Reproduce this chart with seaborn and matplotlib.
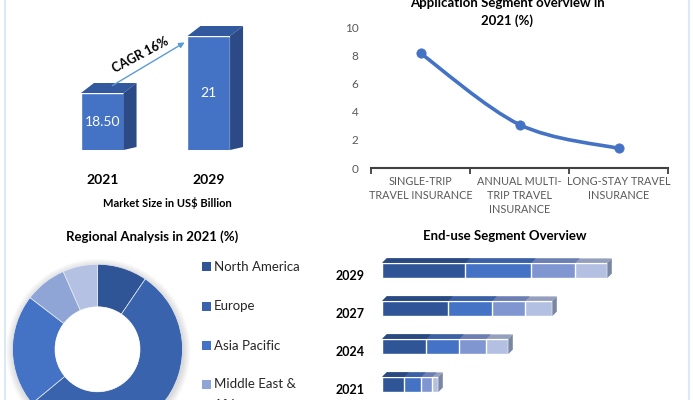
import numpy as np
import pandas as pd
import matplotlib
matplotlib.use("Agg")
import matplotlib.pyplot as plt
import seaborn as sns
from matplotlib.patches import Polygon, Rectangle, PathPatch, Circle
from matplotlib.path import Path
from matplotlib.lines import Line2D

# ---------------- data ----------------
market_years = ["2021", "2029"]
market_values = [18.50, 21]
market_labels = ["18.50", "21"]
cagr_text = "CAGR 16%"

app_segments = ["SINGLE-TRIP\nTRAVEL INSURANCE",
                "ANNUAL MULTI-\nTRIP TRAVEL\nINSURANCE",
                "LONG-STAY TRAVEL\nINSURANCE"]
app_values = [8.2, 3.1, 1.4]
app_ticks = [0, 2, 4, 6, 8, 10]

regions = ["North America", "Europe", "Asia Pacific",
           "Middle East &\nAfrica", "South America"]
region_shares = [9.5, 54.5, 21.4, 8.0, 6.6]

enduse_years = ["2029", "2027", "2024", "2021"]
enduse_seg1 = [8.3, 6.6, 4.4, 2.2]
enduse_seg2 = [6.6, 4.4, 3.3, 1.7]
enduse_seg3 = [4.4, 3.3, 2.7, 1.1]
enduse_seg4 = [3.2, 2.7, 2.2, 0.6]

# ---------------- style ----------------
sns.set_theme(style="white")
plt.rcParams['font.family'] = ['Lato', 'DejaVu Sans']

W, H = 693, 400
fig = plt.figure(figsize=(W / 100, H / 100), dpi=100)


def px_axes(left, top, width, height):
    return fig.add_axes([left / W, (H - top - height) / H, width / W, height / H])


def fx(x):
    return x / W


def fy(y):
    return (H - y) / H


# ---------------- panel 1 : market size 3D bars ----------------
ax1 = px_axes(49, 0, 213, 150)
df1 = pd.DataFrame({"year": market_years, "value": market_values})
sns.barplot(data=df1, x="year", y="value", color="#4472c4", width=0.4,
            saturation=1, ax=ax1, zorder=3)
ybase = 16
ax1.set_xlim(-0.5, 1.5)
ax1.set_ylim(ybase, ybase + 150 / 22.8)
dxd = 13 / (213 / 2.0)
dyd = 10 / 22.8
for p in ax1.patches[:len(market_values)]:
    x0, w, top = p.get_x(), p.get_width(), p.get_height()
    ax1.add_patch(Polygon([(x0, top), (x0 + w, top), (x0 + w + dxd, top + dyd),
                           (x0 + dxd, top + dyd)], closed=True,
                          facecolor="#32599e", edgecolor="none", zorder=3))
    ax1.add_patch(Polygon([(x0 + w, top), (x0 + w + dxd, top + dyd),
                           (x0 + w + dxd, ybase + dyd * 0.3), (x0 + w, ybase)],
                          closed=True, facecolor="#2b4a86", edgecolor="none", zorder=3))
for i, (v, lab) in enumerate(zip(market_values, market_labels)):
    ax1.text(i, (ybase + v) / 2, lab, color="white", fontsize=10,
             ha="center", va="center", zorder=5)
ax1.set_xlabel("")
ax1.set_ylabel("")
ax1.set_yticks([])
ax1.tick_params(axis="x", length=0, pad=17)
for lbl in ax1.get_xticklabels():
    lbl.set_fontweight("bold")
    lbl.set_fontsize(10)
    lbl.set_color("black")
sns.despine(ax=ax1, left=True, bottom=True)
fig.text(fx(167), fy(203), "Market Size in US$ Billion", fontsize=8,
         fontweight="bold", ha="center", va="center", color="black")
fig.add_artist(matplotlib.patches.FancyArrowPatch(
    (fx(110), fy(87)), (fx(187), fy(41)), transform=fig.transFigure,
    arrowstyle="-|>", mutation_scale=8, color="#5b9bd5", lw=1))
fig.text(fx(140), fy(55), cagr_text, fontsize=9, fontweight="bold",
         rotation=28, ha="center", va="center", color="black")

# ---------------- panel 2 : application line ----------------
ax2 = px_axes(371, 28, 297, 140)
x_pos = np.arange(len(app_segments))
sns.scatterplot(x=x_pos, y=app_values, ax=ax2, color="#4472c4", s=45,
                edgecolor="#4472c4", zorder=4)
pts = np.column_stack([x_pos, app_values]).astype(float)
verts = [pts[0]]
codes = [Path.MOVETO]
for i in range(len(pts) - 1):
    p0 = pts[i - 1] if i > 0 else pts[i]
    p1 = pts[i]
    p2 = pts[i + 1]
    p3 = pts[i + 2] if i + 2 < len(pts) else pts[i + 1]
    verts += [p1 + (p2 - p0) / 6, p2 - (p3 - p1) / 6, p2]
    codes += [Path.CURVE4] * 3
ax2.add_patch(PathPatch(Path(verts, codes), facecolor="none",
                        edgecolor="#4472c4", lw=2.6, zorder=3,
                        capstyle="round"))
ax2.set_xlim(-0.5, len(app_segments) - 0.5)
ax2.set_ylim(0, 10)
ax2.set_yticks(app_ticks)
ax2.set_xticks(x_pos)
ax2.set_xticklabels(app_segments)
ax2.set_xticks(np.arange(len(app_segments) + 1) - 0.5, minor=True)
ax2.tick_params(axis="y", length=0, pad=9, labelsize=8.5, labelcolor="#595959")
ax2.tick_params(axis="x", which="major", length=0, pad=6, labelsize=7.8,
                labelcolor="#595959")
ax2.tick_params(axis="x", which="minor", length=4, width=1.3, color="#404040",
                direction="out", bottom=True)
for lbl in ax2.get_xticklabels():
    lbl.set_linespacing(1.3)
for s in ["top", "right", "left"]:
    ax2.spines[s].set_visible(False)
ax2.spines["bottom"].set_color("#404040")
ax2.spines["bottom"].set_linewidth(1.5)
fig.text(fx(507), fy(12), "Application Segment overview in\n2021 (%)",
         fontsize=9.5, fontweight="bold", ha="center", va="center",
         linespacing=1.5, color="black")

# ---------------- panel 3 : regional donut ----------------
ax3 = px_axes(12.5, 264.3, 170, 170)
colors3 = ["#2f5597", "#3a63ad", "#4472c4", "#8fa5d6", "#b4c1e3"]
for k in range(8):
    ax3.add_patch(Circle((0.01, -0.02), 1.0 + 0.012 * k, facecolor="#000000",
                         alpha=0.018, edgecolor="none", zorder=0, clip_on=False))
ax3.pie(region_shares, colors=colors3, startangle=90, counterclock=False,
        radius=1, wedgeprops=dict(width=0.5, edgecolor="#e8ecf5", linewidth=0.5))
ax3.add_patch(Circle((0, 0), 0.5, facecolor="white", edgecolor="none", zorder=5))
ax3.set_xlim(-1, 1)
ax3.set_ylim(-1, 1)
ax3.set_aspect("equal")
ax3.axis("off")
fig.text(fx(152.5), fy(237), "Regional Analysis in 2021 (%)", fontsize=9.5,
         fontweight="bold", ha="center", va="center", color="black")
row_y = [266.7, 306.0, 345.7, 384.3, 423.5]
for lab, col, yy in zip(regions, colors3, row_y):
    fig.add_artist(Rectangle((fx(202), fy(yy + 4.5)), 9 / W, 9 / H,
                             transform=fig.transFigure, facecolor=col,
                             edgecolor="none"))
    fig.text(fx(214), fy(yy - 6), lab, fontsize=9.5, ha="left",
             va="top", color="#262626", linespacing=1.9)

# ---------------- panel 4 : end-use stacked 3D bars ----------------
ax4 = px_axes(382.3, 251.5, 300, 152)
seg_cols = ["s1", "s2", "s3", "s4"]
df4 = pd.DataFrame({"year": enduse_years, "s1": enduse_seg1, "s2": enduse_seg2,
                    "s3": enduse_seg3, "s4": enduse_seg4})
cum = df4[seg_cols].cumsum(axis=1)
front_cols = ["#2f5597", "#4472c4", "#7f96d0", "#b4c0e2"]
top_cols = ["#29497f", "#3a60a6", "#6b7fb3", "#949fbd"]
ddx = 0.45
ddy = 4.5 / 38.0
for k in reversed(range(4)):
    n0 = len(ax4.patches)
    dfk = pd.DataFrame({"year": enduse_years, "total": cum[seg_cols[k]].values})
    sns.barplot(data=dfk, x="total", y="year", orient="h", color=front_cols[k],
                width=0.4, saturation=1, ax=ax4)
    new = ax4.patches[n0:]
    for p in new:
        y0, w, h = p.get_y(), p.get_width(), p.get_height()
        yt = min(y0, y0 + h)
        ax4.add_patch(Polygon([(0, yt), (w, yt), (w + ddx, yt - ddy),
                               (ddx, yt - ddy)], closed=True,
                              facecolor=top_cols[k], edgecolor="none"))
        if k == 3:
            ax4.add_patch(Polygon([(w, yt), (w + ddx, yt - ddy),
                                   (w + ddx, yt + abs(h) - ddy), (w, yt + abs(h))],
                                  closed=True, facecolor="#7a87a3",
                                  edgecolor="none"))
ax4.set_xlim(0, 30)
ax4.set_ylim(len(enduse_years) - 0.5, -0.5)
ax4.set_xlabel("")
ax4.set_ylabel("")
ax4.set_xticks([])
ax4.tick_params(axis="y", length=0, pad=13)
for lbl in ax4.get_yticklabels():
    lbl.set_fontweight("bold")
    lbl.set_fontsize(9)
    lbl.set_color("black")
    lbl.set_verticalalignment("top")
sns.despine(ax=ax4, left=True, bottom=True)
fig.text(fx(505), fy(236), "End-use Segment Overview", fontsize=9.5,
         fontweight="bold", ha="center", va="center", color="black")

# ---------------- frame lines ----------------
for xx in (4.5, 689):
    fig.add_artist(Line2D([fx(xx)] * 2, [0, 1], color="#dbe8f5", lw=1.5,
                          transform=fig.transFigure))

fig.savefig("out.png", dpi=100)
